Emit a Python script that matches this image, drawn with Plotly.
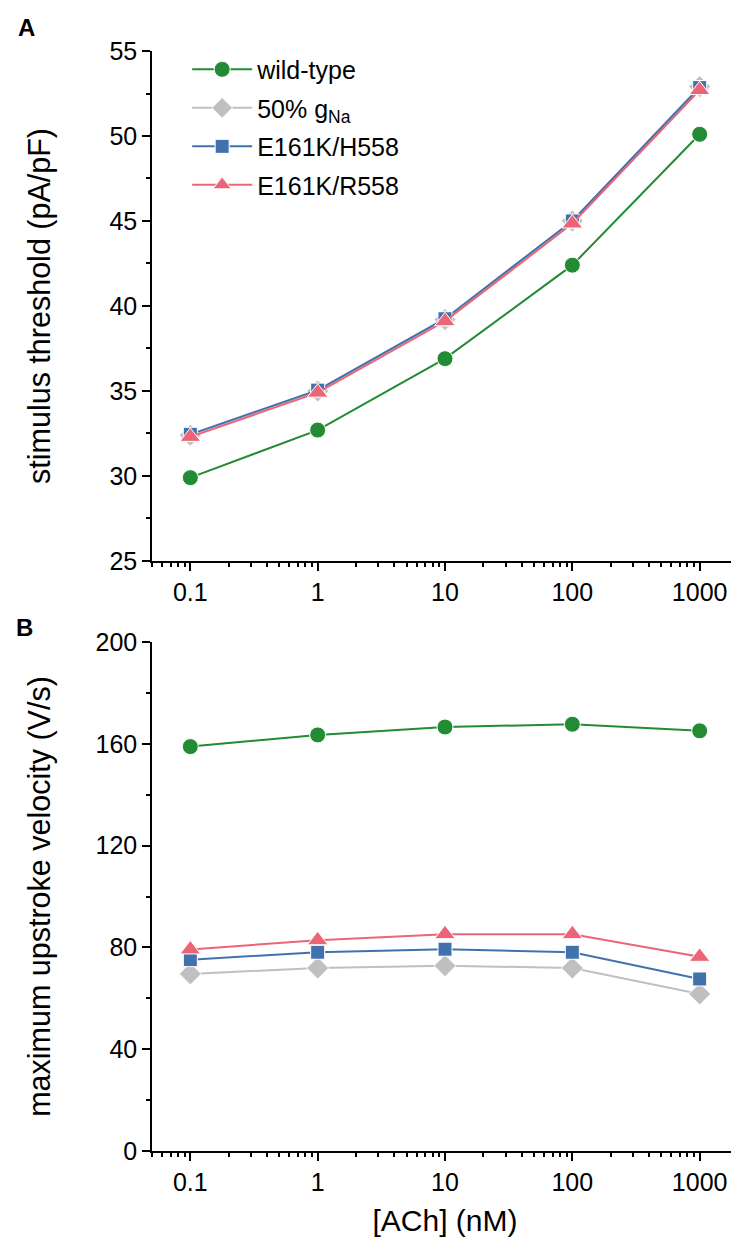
import plotly.graph_objects as go

ach = [0.1, 1, 10, 100, 1000]
tick_text = ["0.1", "1", "10", "100", "1000"]

names = ["wild-type", "50% g<sub>Na</sub>", "E161K/H558", "E161K/R558"]

thr_wt = [29.9, 32.7, 36.9, 42.4, 50.1]
thr_half = [32.4, 35.0, 39.2, 45.0, 52.9]
thr_h558 = [32.45, 35.05, 39.25, 45.0, 52.85]
thr_r558 = [32.3, 34.9, 39.1, 44.85, 52.7]

vel_wt = [158.9, 163.5, 166.6, 167.7, 165.1]
vel_half = [69.6, 71.9, 72.8, 71.9, 61.7]
vel_h558 = [75.2, 78.1, 79.3, 78.1, 67.6]
vel_r558 = [79.2, 82.8, 85.2, 85.2, 76.3]

colors = ["#238B33", "#C0C0C0", "#4272AE", "#EC6577"]
symbols = ["circle", "diamond", "square", "triangle-up"]
msizes = [16, 17, 14, 18]

top_series = [thr_wt, thr_half, thr_h558, thr_r558]
bot_series = [vel_wt, vel_half, vel_h558, vel_r558]

fig = go.Figure()
for i in range(4):
    fig.add_trace(go.Scatter(
        x=ach, y=top_series[i], mode="lines+markers", name=names[i],
        legendgroup=f"g{i}",
        line=dict(color=colors[i], width=2),
        marker=dict(symbol=symbols[i], size=msizes[i], color=colors[i],
                    line=dict(color="white", width=1)),
        xaxis="x", yaxis="y", showlegend=True))
for i in range(4):
    fig.add_trace(go.Scatter(
        x=ach, y=bot_series[i], mode="lines+markers", name=names[i],
        legendgroup=f"g{i}",
        line=dict(color=colors[i], width=2),
        marker=dict(symbol=symbols[i], size=msizes[i], color=colors[i],
                    line=dict(color="white", width=1)),
        xaxis="x2", yaxis="y2", showlegend=False))

minor_vals = [m * 10 ** e for e in range(-2, 4) for m in range(2, 10)]
minor_vals = [v for v in minor_vals if 0.05 <= v <= 2000]

font_family = "Liberation Sans, Arial, sans-serif"

xcommon = dict(
    type="log", range=[-1.30103, 3.30103],
    tickvals=ach, ticktext=tick_text,
    ticks="outside", ticklen=8, tickwidth=1.5, tickcolor="black",
    showline=True, linecolor="black", linewidth=1.5,
    showgrid=False, zeroline=False,
    tickfont=dict(size=25, color="black"),
    minor=dict(ticks="outside", ticklen=4, tickwidth=1.5, tickcolor="black",
               tickvals=minor_vals, showgrid=False),
)
ycommon = dict(
    ticks="outside", ticklen=8, tickwidth=1.5, tickcolor="black",
    showline=True, linecolor="black", linewidth=1.5,
    showgrid=False, zeroline=False,
    tickfont=dict(size=25, color="black"),
)

fig.update_layout(
    width=739, height=1241,
    margin=dict(l=144, r=9, t=43, b=98),
    paper_bgcolor="white", plot_bgcolor="white",
    font=dict(family=font_family, color="black"),
    xaxis=dict(**xcommon, domain=[0, 1], anchor="y"),
    yaxis=dict(**ycommon, domain=[0.5364, 1.0], range=[25, 55],
               tickvals=[25, 30, 35, 40, 45, 50, 55],
               minor=dict(ticks="outside", ticklen=4, tickwidth=1.5,
                          tickcolor="black", dtick=2.5, showgrid=False),
               title=dict(text="stimulus threshold (pA/pF)",
                          font=dict(size=30.5), standoff=50),
               anchor="x"),
    xaxis2=dict(**xcommon, domain=[0, 1], anchor="y2",
                title=dict(text="[ACh] (nM)", font=dict(size=30), standoff=15)),
    yaxis2=dict(**ycommon, domain=[0, 0.4627], range=[0, 200],
                tickvals=[0, 40, 80, 120, 160, 200],
                minor=dict(ticks="outside", ticklen=4, tickwidth=1.5,
                           tickcolor="black", dtick=20, showgrid=False),
                title=dict(text="maximum upstroke velocity (V/s)",
                           font=dict(size=30.5), standoff=36),
                anchor="x2"),
    showlegend=True,
    legend=dict(x=0.06, y=1.004, xanchor="left", yanchor="top",
                font=dict(size=25, color="black"),
                bgcolor="rgba(0,0,0,0)", tracegroupgap=3,
                itemwidth=60),
    annotations=[
        dict(text="<b>A</b>", x=-0.215, y=1.021, xref="paper", yref="paper",
             showarrow=False, font=dict(size=24), xanchor="center", yanchor="middle"),
        dict(text="<b>B</b>", x=-0.217, y=0.4755, xref="paper", yref="paper",
             showarrow=False, font=dict(size=24), xanchor="center", yanchor="middle"),
    ],
)

fig.write_html("out.html")
